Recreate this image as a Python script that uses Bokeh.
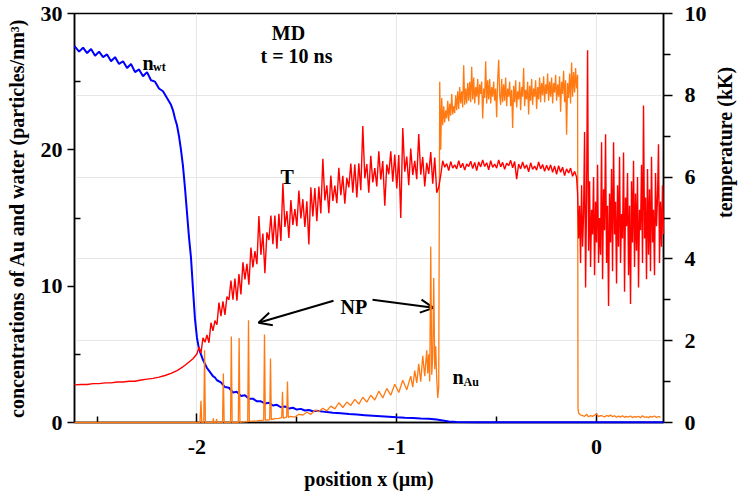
import math
import numpy as np
from bokeh.plotting import figure
from bokeh.models import (Range1d, LinearAxis, FixedTicker, Grid, Label, Arrow,
                          OpenHead)
from bokeh.embed import file_html
from bokeh.resources import INLINE

FONT = "Liberation Serif"

# ---------------- data ----------------
# water concentration n_wt (particles/nm^3) vs position (um)
x_wt = [-2.613, -2.59, -2.57, -2.55, -2.53, -2.51, -2.49, -2.47, -2.45, -2.43,
        -2.41, -2.39, -2.37, -2.35, -2.33, -2.31, -2.29, -2.27, -2.25, -2.23,
        -2.21, -2.19, -2.17, -2.15, -2.13,
        -2.12, -2.11, -2.10, -2.09, -2.08, -2.07, -2.06, -2.05, -2.04, -2.03,
        -2.02, -2.01, -2.00, -1.99, -1.98, -1.97, -1.96, -1.95, -1.94, -1.93,
        -1.92, -1.91, -1.90,
        -1.88, -1.86, -1.84, -1.82, -1.80, -1.78, -1.76, -1.74, -1.72, -1.70,
        -1.68, -1.66, -1.64, -1.62, -1.60, -1.58, -1.56, -1.54, -1.52, -1.50,
        -1.48, -1.46, -1.44, -1.42, -1.40,
        -1.36, -1.32, -1.28, -1.24, -1.20, -1.16, -1.12, -1.08, -1.04, -1.00,
        -0.96, -0.92, -0.88, -0.84, -0.80, -0.77, -0.74, -0.70, -0.60, -0.40,
        0.0, 0.335]
n_wt = [27.6, 27.2, 27.5, 27.1, 27.4, 26.9, 27.2, 26.8, 27.0, 26.5,
        26.8, 26.3, 26.5, 26.0, 26.3, 25.7, 25.9, 25.4, 25.7, 25.1,
        25.0, 24.5, 24.3, 23.8, 23.3,
        22.9, 22.3, 21.8, 21.0, 20.0, 18.8, 17.2, 15.4, 13.6, 12.1,
        9.8, 7.6, 6.2, 5.4, 5.0, 4.6, 4.3, 4.0, 3.8, 3.6,
        3.4, 3.3, 3.1,
        2.95, 2.6, 2.55, 2.2, 2.25, 1.95, 2.0, 1.75, 1.75, 1.55,
        1.55, 1.4, 1.45, 1.25, 1.3, 1.12, 1.18, 1.02, 1.08, 0.95,
        1.0, 0.88, 0.92, 0.82, 0.86,
        0.78, 0.72, 0.68, 0.62, 0.58, 0.54, 0.50, 0.46, 0.42, 0.38,
        0.35, 0.33, 0.30, 0.28, 0.22, 0.15, 0.08, 0.04, 0.02, 0.02,
        0.02, 0.02]

# temperature T (kK): smooth part in water
x_T_water = [-2.613, -2.58, -2.55, -2.52, -2.49, -2.46, -2.43, -2.40, -2.37,
             -2.34, -2.31, -2.28, -2.25, -2.22, -2.19, -2.16, -2.13, -2.10,
             -2.08, -2.06, -2.04, -2.02, -2.00]
T_water = [0.92, 0.93, 0.93, 0.95, 0.95, 0.97, 0.97, 0.99, 0.99,
           1.01, 1.01, 1.04, 1.06, 1.08, 1.11, 1.15, 1.20, 1.27,
           1.33, 1.40, 1.48, 1.56, 1.68]
# temperature, mixing layer: from x = -1.99, every 0.01 um
T_mix_x0, T_mix_dx = -1.99, 0.01
T_mix = [1.84, 1.70, 2.07, 1.96, 2.14, 1.95, 2.44, 2.24, 2.49, 2.39,
         2.93, 2.60, 2.96, 2.63, 3.08, 3.00, 3.47, 3.00, 3.52, 2.98,
         3.63, 3.13, 3.92, 3.50, 3.88, 3.37, 4.28, 3.79, 4.19, 3.87,
         5.05, 4.10, 4.62, 3.65, 4.65, 4.46, 5.06, 4.36, 5.06, 4.25,
         5.10, 4.44, 5.85, 4.78, 5.17, 4.51, 5.44, 4.83, 5.22, 4.80,
         5.67, 4.99, 5.46, 4.78, 5.41, 4.35, 5.75, 5.04, 5.73, 4.92,
         5.77, 5.11, 6.45, 5.43, 5.80, 5.12, 6.04, 5.42, 5.79, 5.36,
         6.23, 5.56, 6.03, 5.35, 5.98, 5.75, 6.33, 5.62, 6.31, 5.50,
         6.34, 5.68, 7.25, 5.97, 6.32, 5.62, 6.52, 5.87, 6.22, 5.77,
         6.63, 5.94, 6.39, 5.30, 6.31, 6.07, 6.63, 5.89, 6.55, 5.72,
         6.54, 5.00, 7.20, 6.13, 6.50, 5.80, 6.70, 6.05, 6.40, 5.95,
         7.05, 6.06, 6.49, 5.77, 6.35, 6.08, 6.61, 5.84, 6.48, 5.62]
# temperature in the gold layer: from x = -0.79, every 0.01 um
T_gold_x0, T_gold_dx = -0.79, 0.01
T_gold = [5.75, 6.05, 6.40, 6.24, 6.33, 6.16, 6.38, 6.22, 6.30, 6.20,
          6.40, 6.23, 6.34, 6.17, 6.32, 6.26, 6.39, 6.21, 6.36, 6.16,
          6.37, 6.25, 6.42, 6.26, 6.35, 6.18, 6.40, 6.24, 6.32, 6.22,
          6.42, 6.25, 6.36, 6.19, 6.34, 6.28, 6.41, 6.23, 6.38, 5.95,
          6.32, 6.20, 6.37, 6.21, 6.30, 6.13, 6.35, 6.19, 6.27, 6.17,
          6.37, 6.20, 6.31, 6.14, 6.29, 6.16, 6.30, 6.12, 6.27, 6.07,
          6.28, 6.12, 6.24, 6.04, 6.20, 6.10, 6.22, 6.02, 6.14, 6.00]
# temperature in the vapour behind the film: from x = -0.095, every 0.005 um
T_vap_x0, T_vap_dx = -0.095, 0.005
T_vap = [5.6, 4.5, 5.3, 3.9, 5.8, 4.3, 5.1, 7.1, 3.3, 5.5,
         9.1, 4.2, 5.9, 3.8, 5.2, 4.6, 6.0, 3.6, 5.4, 4.4,
         6.3, 3.9, 5.0, 4.1, 6.85, 3.5, 5.7, 4.7, 7.05, 3.9,
         5.3, 2.85, 5.6, 4.4, 6.2, 3.7, 6.85, 4.6, 5.4, 3.4,
         5.8, 4.3, 6.5, 3.9, 5.1, 4.5, 6.6, 3.2, 5.5, 4.8,
         6.1, 3.6, 5.3, 2.9, 5.9, 4.4, 6.4, 3.8, 5.6, 4.2,
         6.0, 3.3, 5.2, 4.7, 6.3, 3.9, 7.75, 4.5, 5.5, 3.5,
         6.2, 4.1, 5.7, 3.7, 6.5, 4.4, 5.2, 3.6, 6.1, 4.8,
         5.5, 6.8, 3.9, 5.4, 4.3, 5.8, 4.6]

# gold concentration n_Au: front with nanoparticles (NP) and diffusion tail
x_au_front = [-2.613, -1.985, -1.980, -1.976, -1.966, -1.962, -1.958, -1.921,
              -1.918, -1.915, -1.905, -1.902, -1.899, -1.872, -1.868, -1.864,
              -1.832, -1.828, -1.824, -1.793, -1.789, -1.785, -1.78, -1.76,
              -1.746, -1.742, -1.738, -1.72, -1.70, -1.68, -1.666, -1.662,
              -1.658, -1.636, -1.632, -1.628, -1.61, -1.59, -1.576, -1.572,
              -1.568, -1.551, -1.547, -1.543, -1.53, -1.51, -1.49, -1.47,
              -1.45, -1.43, -1.41, -1.39, -1.37, -1.35, -1.33, -1.31, -1.29,
              -1.27, -1.25, -1.23, -1.21, -1.19, -1.17, -1.15, -1.13, -1.11,
              -1.09, -1.07, -1.05, -1.03, -1.01, -0.99, -0.97, -0.95, -0.93,
              -0.92, -0.91, -0.90, -0.89, -0.88, -0.87, -0.86, -0.85, -0.845,
              -0.84, -0.835, -0.83, -0.825, -0.82, -0.815, -0.81, -0.805,
              -0.80, -0.795, -0.79]
n_au_front = [0, 0, 1.6, 0, 0, 5.3, 0, 0,
              0.3, 0, 0, 0.25, 0, 0, 3.6, 0,
              0, 6.3, 0, 0, 6.2, 0, 0.03, 0.05,
              0.06, 7.5, 0.08, 0.1, 0.12, 0.15, 0.17, 6.45,
              0.18, 0.2, 4.7, 0.22, 0.28, 0.3, 0.35, 2.25,
              0.32, 0.4, 3.0, 0.38, 0.45, 0.4, 0.6, 0.55,
              0.75, 0.6, 0.9, 0.8, 1.05, 0.85, 1.2, 1.0, 1.45,
              1.1, 1.5, 1.25, 1.7, 1.35, 1.85, 1.5, 2.0, 1.65,
              2.3, 1.8, 2.5, 2.0, 2.8, 2.2, 3.1, 2.4, 3.4,
              2.6, 3.8, 2.9, 4.3, 3.0, 4.9, 3.4, 5.3, 3.6,
              5.0, 3.0, 12.9, 3.5, 4.8, 10.6, 3.9, 5.6,
              3.2, 1.8, 2.6]
# gold film: from x = -0.785, every 0.005 um
au_film_x0, au_film_dx = -0.785, 0.005
n_au_film = [25.0, 20.0, 23.8, 21.8, 23.2, 22.0, 22.9, 22.3, 23.6, 22.1,
             23.4, 22.5, 24.1, 22.6, 23.2, 22.7, 24.0, 22.9, 24.3, 23.0,
             24.6, 23.4, 24.3, 23.1, 26.2, 23.3, 24.5, 23.4, 24.9, 23.6,
             25.0, 23.5, 26.1, 23.7, 25.3, 23.4, 24.6, 23.9, 25.2, 23.3,
             24.8, 24.1, 25.0, 22.3, 24.5, 23.8, 26.5, 23.4, 25.1, 23.7,
             25.2, 23.4, 24.6, 23.9, 25.0, 23.6, 24.5, 22.4, 25.1, 26.6,
             24.0, 23.3, 25.2, 23.5, 24.8, 23.6, 25.3, 23.2, 24.5, 23.9,
             25.0, 23.2, 24.4, 21.6, 24.7, 23.5, 25.1, 23.1, 24.3, 23.7,
             25.0, 22.9, 24.6, 23.9, 26.0, 23.2, 24.4, 23.7, 25.0, 22.6,
             24.7, 23.6, 25.2, 23.3, 24.5, 23.9, 25.1, 23.0, 24.6, 23.7,
             25.3, 23.5, 24.9, 24.0, 25.4, 23.5, 24.8, 24.1, 25.6, 23.6,
             25.0, 23.9, 25.3, 23.4, 24.9, 24.2, 25.5, 23.6, 24.8, 23.9,
             25.4, 22.8, 25.0, 24.1, 25.8, 23.5, 25.1, 21.1, 24.9, 23.8,
             25.6, 23.4, 26.4, 23.9, 25.7, 24.2, 26.0, 24.5, 25.5]
# gold vapour behind the film
x_au_vap = [-0.093, -0.09, -0.08, -0.07, -0.06, -0.05, -0.04, -0.03, -0.02,
            -0.01, 0.0, 0.01, 0.02, 0.03, 0.04, 0.05, 0.06, 0.07, 0.08, 0.09,
            0.10, 0.11, 0.12, 0.13, 0.14, 0.15, 0.16, 0.17, 0.18, 0.19, 0.20,
            0.21, 0.22, 0.23, 0.24, 0.25, 0.26, 0.27, 0.28, 0.29, 0.30, 0.31,
            0.32]
n_au_vap = [1.0, 0.7, 0.55, 0.5, 0.45, 0.6, 0.42, 0.5, 0.45,
            0.55, 0.62, 0.43, 0.5, 0.48, 0.4, 0.52, 0.45, 0.55, 0.42, 0.5,
            0.38, 0.47, 0.4, 0.5, 0.38, 0.45, 0.4, 0.48, 0.36, 0.44, 0.4,
            0.46, 0.35, 0.5, 0.38, 0.42, 0.36, 0.45, 0.4, 0.48, 0.37, 0.44,
            0.4]

x_ticks = [-2, -1, 0]
x_minor = [-2.5, -1.5, -0.5]
n_ticks = [0, 10, 20, 30]
n_minor = [5, 15, 25]
T_ticks = [0, 2, 4, 6, 8, 10]
T_minor = [1, 3, 5, 7, 9]

# ---------------- assemble series ----------------
def seg(x0, dx, vals):
    return list(x0 + dx * np.arange(len(vals)))

m = min(len(x_wt), len(n_wt))
xw, yw = x_wt[:m], n_wt[:m]

xT = list(x_T_water) + seg(T_mix_x0, T_mix_dx, T_mix) + \
     seg(T_gold_x0, T_gold_dx, T_gold) + seg(T_vap_x0, T_vap_dx, T_vap)
yT = list(T_water) + T_mix + T_gold + T_vap

ma = min(len(x_au_front), len(n_au_front))
mv = min(len(x_au_vap), len(n_au_vap))
xA = list(x_au_front[:ma]) + seg(au_film_x0, au_film_dx, n_au_film) + list(x_au_vap[:mv])
yA = list(n_au_front[:ma]) + n_au_film + list(n_au_vap[:mv])

# ---------------- figure ----------------
p = figure(width=755, height=492, output_backend="svg", toolbar_location=None,
           x_range=Range1d(-2.613, 0.335), y_range=Range1d(0, 30),
           min_border_left=74, min_border_right=92, min_border_top=13,
           min_border_bottom=69)
p.background_fill_color = "white"
p.border_fill_color = "white"
p.outline_line_color = "black"
p.outline_line_width = 1.5
p.extra_y_ranges = {"T": Range1d(0, 10)}

# grids
p.xgrid.ticker = FixedTicker(ticks=x_ticks)
p.xgrid.grid_line_color = "#e6e6e6"
p.ygrid.visible = False
p.add_layout(Grid(dimension=1, ticker=FixedTicker(ticks=[2, 4, 6, 8]),
                  y_range_name="T", grid_line_color="#e6e6e6"))

def style_axis(ax):
    ax.axis_line_color = "black"
    ax.axis_line_width = 1.5
    ax.major_tick_line_color = "black"
    ax.major_tick_line_width = 1.5
    ax.minor_tick_line_color = "black"
    ax.minor_tick_line_width = 1.5
    ax.major_label_text_font = FONT
    ax.major_label_text_font_style = "bold"
    ax.major_label_text_font_size = "22px"
    ax.major_label_text_color = "black"
    ax.axis_label_text_font = FONT
    ax.axis_label_text_font_style = "bold"
    ax.axis_label_text_font_size = "20px"
    ax.axis_label_text_color = "black"

xa = p.xaxis[0]
style_axis(xa)
xa.ticker = FixedTicker(ticks=x_ticks, minor_ticks=x_minor)
xa.major_label_overrides = {-2: "-2", -1: "-1", 0: "0"}
xa.major_tick_in, xa.major_tick_out = 9, 0
xa.minor_tick_in, xa.minor_tick_out = 6, 0
xa.major_label_standoff = 17
xa.axis_label = "position x (µm)"
xa.axis_label_standoff = 11

ya = p.yaxis[0]
style_axis(ya)
ya.ticker = FixedTicker(ticks=n_ticks, minor_ticks=n_minor)
ya.major_tick_in, ya.major_tick_out = 0, 7
ya.minor_tick_in, ya.minor_tick_out = 6, 0
ya.major_label_standoff = 5
ya.axis_label = "concentrations of Au and water (particles/nm³)"
ya.axis_label_standoff = 10

ra = LinearAxis(y_range_name="T")
style_axis(ra)
ra.ticker = FixedTicker(ticks=T_ticks, minor_ticks=T_minor)
ra.major_tick_in, ra.major_tick_out = 0, 9
ra.minor_tick_in, ra.minor_tick_out = 0, 7
ra.major_label_standoff = 12
ra.axis_label = "temperature (kK)"
ra.axis_label_standoff = 15
try:
    ra.axis_label_orientation = math.pi / 2
except Exception:
    pass
p.add_layout(ra, "right")

# lines
rw = p.line(xw, yw, line_color="#0000ff", line_width=2)
ra_ = p.line(xA, yA, line_color="#ff7a12", line_width=1.3)
rt = p.line(xT, yT, line_color="#ff0000", line_width=1.4, y_range_name="T")
for r in (rw, ra_, rt):
    r.level = "overlay"

def lab(x, y, text, size="20px", style="bold", align="left"):
    p.add_layout(Label(x=x, y=y, text=text, text_font=FONT,
                       text_font_size=size, text_font_style=style,
                       text_align=align, text_baseline="alphabetic",
                       text_color="black"))

# annotations
lab(-1.542, 28.54, "MD", align="center")
lab(-1.502, 26.85, "t = 10 ns", align="center")
lab(-2.273, 26.34, "n")
lab(-2.220, 26.05, "wt", size="12px")
lab(-1.582, 18.0, "T")
lab(-1.2816, 8.49, "NP")
lab(-0.721, 3.37, "n")
lab(-0.666, 3.0, "Au", size="12px")

p.add_layout(Arrow(end=OpenHead(size=13, line_width=2, line_color="black"),
                   x_start=-1.3166, y_start=8.93, x_end=-1.692, y_end=7.32,
                   line_width=2, line_color="black"))
p.add_layout(Arrow(end=OpenHead(size=13, line_width=2, line_color="black"),
                   x_start=-1.1214, y_start=9.0, x_end=-0.816, y_end=8.41,
                   line_width=2, line_color="black"))

open("out.html", "w").write(file_html(p, INLINE))
